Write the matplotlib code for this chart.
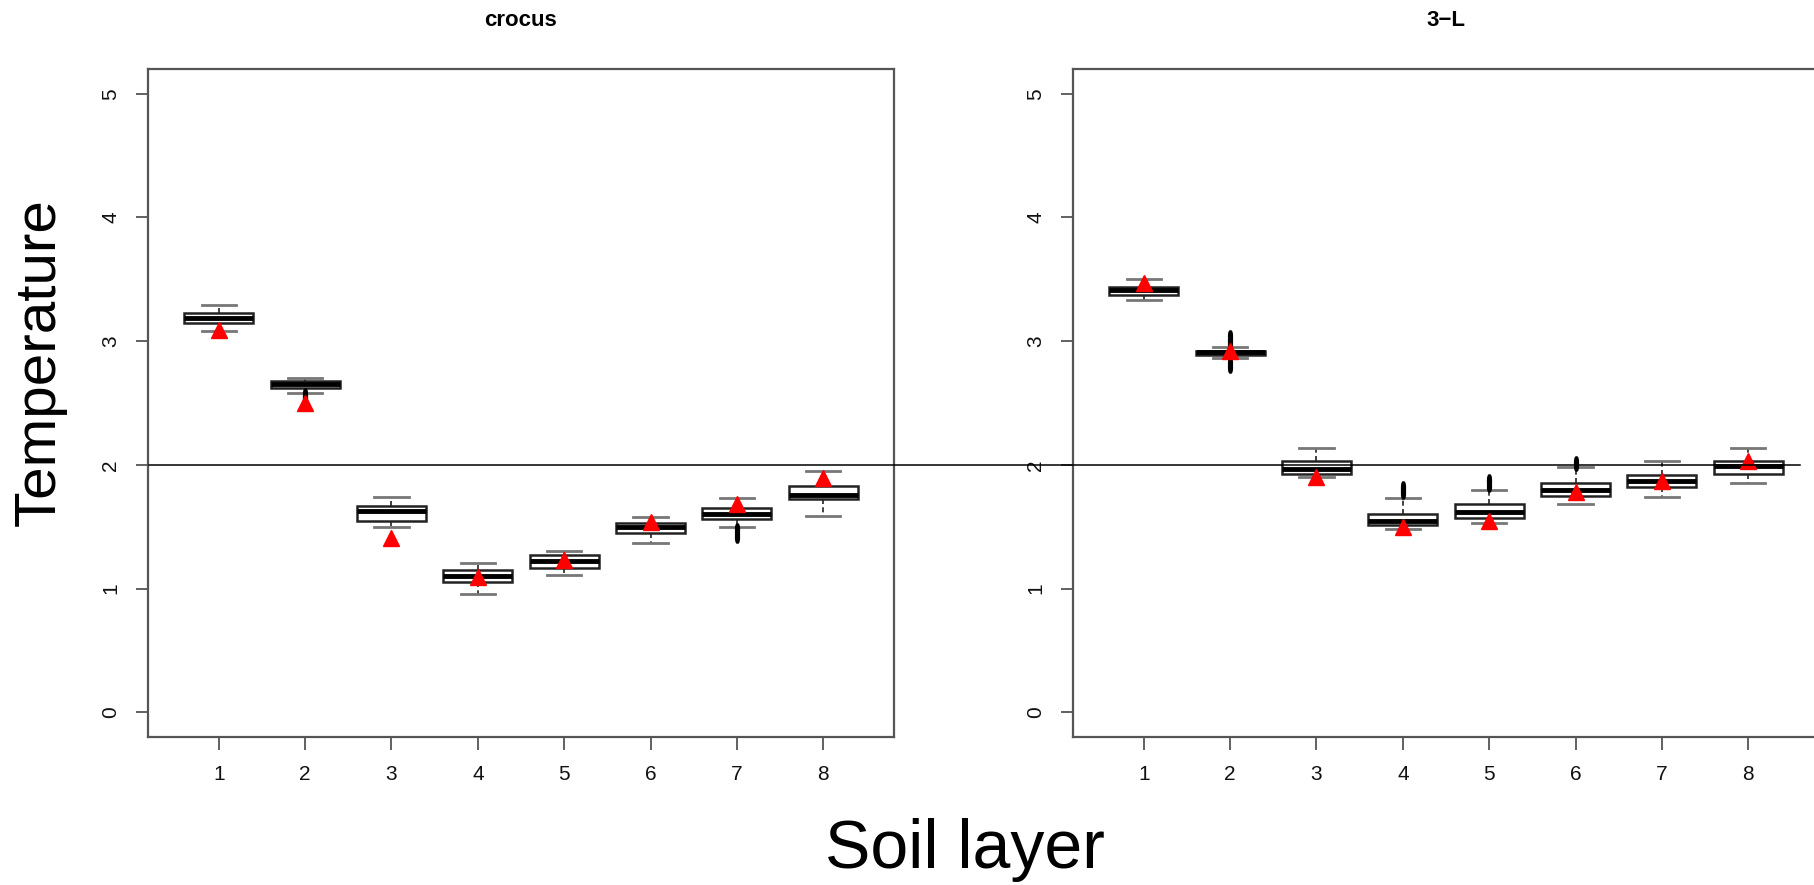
import matplotlib
matplotlib.use("Agg")
import matplotlib.pyplot as plt
from matplotlib.lines import Line2D
from matplotlib.markers import MarkerStyle
from matplotlib.transforms import Affine2D, blended_transform_factory

plt.rcParams['font.family'] = ['Liberation Sans', 'DejaVu Sans']

layers = [1, 2, 3, 4, 5, 6, 7, 8]
ytick_vals = [0, 1, 2, 3, 4, 5]
reference_temp = 2.0

# crocus: box statistics per soil layer
crocus_whislo = [3.08, 2.58, 1.50, 0.96, 1.11, 1.37, 1.50, 1.59]
crocus_q1 = [3.15, 2.62, 1.55, 1.05, 1.17, 1.45, 1.56, 1.72]
crocus_med = [3.19, 2.65, 1.63, 1.10, 1.22, 1.50, 1.60, 1.76]
crocus_q3 = [3.23, 2.68, 1.67, 1.15, 1.27, 1.53, 1.65, 1.83]
crocus_whishi = [3.29, 2.70, 1.74, 1.21, 1.30, 1.58, 1.73, 1.95]
crocus_fliers = [[], [2.53, 2.55, 2.57], [], [], [], [], [1.42, 1.45, 1.48], []]
crocus_obs = [3.09, 2.50, 1.41, 1.09, 1.23, 1.54, 1.68, 1.89]

# 3-L: box statistics per soil layer
l3_whislo = [3.33, 2.86, 1.90, 1.48, 1.53, 1.68, 1.74, 1.85]
l3_q1 = [3.37, 2.89, 1.93, 1.51, 1.57, 1.75, 1.82, 1.93]
l3_med = [3.41, 2.91, 1.97, 1.55, 1.62, 1.80, 1.87, 1.99]
l3_q3 = [3.44, 2.92, 2.03, 1.60, 1.68, 1.85, 1.92, 2.03]
l3_whishi = [3.50, 2.95, 2.14, 1.73, 1.80, 1.98, 2.03, 2.14]
l3_fliers = [[], [2.79, 2.82, 2.98, 3.01, 3.04], [], [1.77, 1.80, 1.82],
             [1.83, 1.86, 1.88], [2.00, 2.02], [], []]
l3_obs = [3.47, 2.92, 1.90, 1.50, 1.55, 1.78, 1.87, 2.03]


def make_stats(whislo, q1, med, q3, whishi, fliers):
    stats = []
    for i in range(len(med)):
        stats.append(dict(whislo=whislo[i], q1=q1[i], med=med[i], q3=q3[i],
                          whishi=whishi[i], fliers=fliers[i]))
    return stats


# squeezed open circles for the outliers
flier_marker = MarkerStyle('o', fillstyle='none',
                           transform=Affine2D().scale(0.22, 1.0))


def draw_panel(ax, stats, obs, title):
    ax.bxp(stats, positions=layers, widths=0.8, showfliers=True,
           patch_artist=True,
           boxprops=dict(facecolor='white', edgecolor='#222222', linewidth=1.8),
           medianprops=dict(color='black', linewidth=3.5, solid_capstyle='butt'),
           whiskerprops=dict(color='#222222', linewidth=1.2, linestyle=(0, (3, 2))),
           capprops=dict(color='#777777', linewidth=2.0),
           capwidths=0.4,
           flierprops=dict(marker=flier_marker, markersize=7,
                           markeredgecolor='black', markeredgewidth=2.2,
                           linestyle='none'))
    ax.plot(layers, obs, linestyle='none', marker='^', markersize=11,
            color='red', markeredgecolor='red', zorder=5)
    ax.set_xlim(0.18, 8.82)
    ax.set_ylim(-0.2, 5.2)
    ax.set_xticks(layers)
    ax.set_xticklabels([str(v) for v in layers])
    ax.set_yticks(ytick_vals)
    ax.set_yticklabels([str(v) for v in ytick_vals])
    ax.tick_params(axis='x', direction='out', length=9, width=1.3,
                   color='#555555', labelsize=15, pad=11, labelcolor='#111111')
    ax.tick_params(axis='y', direction='out', length=9, width=1.3,
                   color='#555555', labelsize=15, pad=11, labelcolor='#111111',
                   labelrotation=90)
    for lab in ax.get_yticklabels():
        lab.set_va('center')
    for sp in ax.spines.values():
        sp.set_color('#555555')
        sp.set_linewidth(1.6)
    ax.text(0.5, 1.073, title, transform=ax.transAxes, ha='center',
            va='center', fontsize=16, fontweight='bold')


fig = plt.figure(figsize=(18.15, 8.85), dpi=100)
W, H = 1815.0, 885.0
ax1 = fig.add_axes([148 / W, 1 - 737 / H, 746 / W, 668 / H])
ax2 = fig.add_axes([1073 / W, 1 - 737 / H, 746 / W, 668 / H])

draw_panel(ax1, make_stats(crocus_whislo, crocus_q1, crocus_med, crocus_q3,
                           crocus_whishi, crocus_fliers), crocus_obs, 'crocus')
draw_panel(ax2, make_stats(l3_whislo, l3_q1, l3_med, l3_q3,
                           l3_whishi, l3_fliers), l3_obs, '3\u2212L')

# reference level drawn across both panels
trans = blended_transform_factory(fig.transFigure, ax1.transData)
fig.add_artist(Line2D([149 / W, 1800 / W], [reference_temp, reference_temp],
                      transform=trans, color='black', linewidth=1.1, zorder=10))

fig.text(40 / W, 1 - 362 / H, 'Temperature', rotation=90, ha='center',
         va='center', fontsize=42)
fig.text(965 / W, 1 - 868 / H, 'Soil layer', ha='center', va='baseline',
         fontsize=49)

fig.savefig('out.png', dpi=100)
